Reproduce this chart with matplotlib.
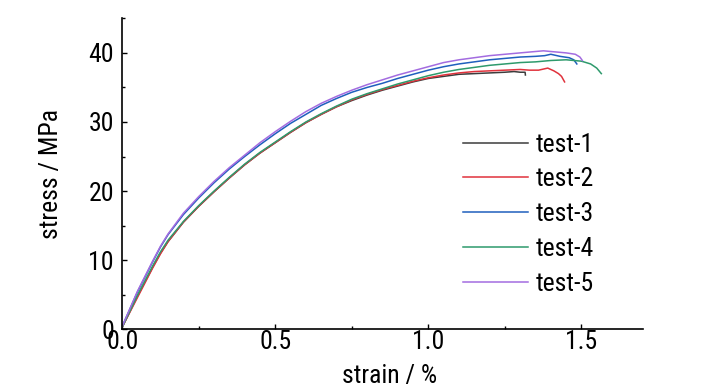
import matplotlib
matplotlib.use("Agg")
import matplotlib.pyplot as plt
from matplotlib.ticker import MultipleLocator, FormatStrFormatter
from matplotlib import font_manager

names = {f.name for f in font_manager.fontManager.ttflist}
fam = [n for n in ['Liberation Sans Narrow', 'Roboto Condensed', 'Open Sans Condensed'] if n in names]
plt.rcParams['font.family'] = fam + ['Liberation Sans', 'DejaVu Sans']
narrow = bool(fam)

labels = ["test-1", "test-2", "test-3", "test-4", "test-5"]
colors = ["#3c3c3c", "#e0323c", "#1f5fbd", "#2e9a6c", "#a36ce0"]

# strain (%) / stress (MPa)
strain_1 = [0, 0.05, 0.1, 0.125, 0.15, 0.2, 0.25, 0.3, 0.35, 0.4, 0.45, 0.5, 0.55, 0.6, 0.65, 0.7,
            0.75, 0.8, 0.85, 0.9, 0.95, 1.0, 1.05, 1.1, 1.15, 1.2, 1.25, 1.28, 1.3, 1.316, 1.317]
stress_1 = [0.3, 4.8, 9.0, 11.0, 12.7, 15.5, 17.8, 19.9, 21.9, 23.8, 25.5, 27.0, 28.5, 29.9, 31.1, 32.2,
            33.1, 33.9, 34.6, 35.2, 35.8, 36.3, 36.6, 36.9, 37.0, 37.1, 37.2, 37.3, 37.2, 37.2, 36.8]

strain_2 = [0, 0.05, 0.1, 0.125, 0.15, 0.2, 0.25, 0.3, 0.35, 0.4, 0.45, 0.5, 0.55, 0.6, 0.65, 0.7,
            0.75, 0.8, 0.85, 0.9, 0.95, 1.0, 1.05, 1.1, 1.15, 1.2, 1.25, 1.3, 1.33, 1.36, 1.39,
            1.41, 1.425, 1.435, 1.445]
stress_2 = [0.3, 4.6, 8.9, 10.9, 12.7, 15.5, 17.8, 19.9, 21.9, 23.8, 25.5, 27.0, 28.5, 29.9, 31.1, 32.2,
            33.2, 34.0, 34.7, 35.3, 35.9, 36.4, 36.8, 37.1, 37.3, 37.4, 37.5, 37.6, 37.5, 37.5, 37.8,
            37.4, 37.0, 36.6, 35.8]

strain_3 = [0, 0.05, 0.1, 0.125, 0.15, 0.2, 0.25, 0.3, 0.35, 0.4, 0.45, 0.5, 0.55, 0.6, 0.65, 0.7,
            0.75, 0.8, 0.85, 0.9, 0.95, 1.0, 1.05, 1.1, 1.15, 1.2, 1.25, 1.3, 1.35, 1.38, 1.40,
            1.43, 1.46, 1.475, 1.485]
stress_3 = [0.4, 5.4, 9.8, 11.9, 13.7, 16.6, 19.0, 21.2, 23.2, 25.0, 26.7, 28.3, 29.8, 31.1, 32.4, 33.4,
            34.3, 35.0, 35.6, 36.3, 36.9, 37.5, 38.0, 38.4, 38.7, 39.0, 39.2, 39.4, 39.5, 39.6, 39.8,
            39.5, 39.3, 39.0, 38.4]

strain_4 = [0, 0.05, 0.1, 0.125, 0.15, 0.2, 0.25, 0.3, 0.35, 0.4, 0.45, 0.5, 0.55, 0.6, 0.65, 0.7,
            0.75, 0.8, 0.85, 0.9, 0.95, 1.0, 1.05, 1.1, 1.15, 1.2, 1.25, 1.3, 1.35, 1.4, 1.45,
            1.5, 1.53, 1.55, 1.565]
stress_4 = [0.3, 4.9, 9.2, 11.2, 12.9, 15.6, 17.9, 20.0, 22.0, 23.9, 25.6, 27.1, 28.6, 30.0, 31.2, 32.3,
            33.3, 34.1, 34.8, 35.5, 36.1, 36.7, 37.2, 37.6, 37.9, 38.2, 38.4, 38.6, 38.7, 38.9, 39.0,
            38.8, 38.4, 37.8, 37.0]

strain_5 = [0, 0.05, 0.1, 0.125, 0.15, 0.2, 0.25, 0.3, 0.35, 0.4, 0.45, 0.5, 0.55, 0.6, 0.65, 0.7,
            0.75, 0.8, 0.85, 0.9, 0.95, 1.0, 1.05, 1.1, 1.15, 1.2, 1.25, 1.3, 1.35, 1.376, 1.4,
            1.45, 1.48, 1.495, 1.503]
stress_5 = [0.4, 5.5, 9.9, 12.0, 13.8, 16.8, 19.2, 21.4, 23.4, 25.2, 27.0, 28.6, 30.1, 31.5, 32.7, 33.7,
            34.6, 35.4, 36.1, 36.8, 37.4, 38.0, 38.6, 39.0, 39.3, 39.6, 39.8, 40.0, 40.2, 40.3, 40.2,
            40.0, 39.8, 39.4, 38.9]

strains = [strain_1, strain_2, strain_3, strain_4, strain_5]
stresses = [stress_1, stress_2, stress_3, stress_4, stress_5]

fs = 18.5 if narrow else 17

fig = plt.figure(figsize=(7.27, 3.90), dpi=100)
ax = fig.add_axes([0.168, 0.1556, 0.716, 0.7974])

for x, y, c, lab in zip(strains, stresses, colors, labels):
    ax.plot(x, y, color=c, lw=1.1, label=lab)

ax.set_xlim(0, 1.7)
ax.set_ylim(0, 45)
ax.xaxis.set_major_locator(MultipleLocator(0.5))
ax.xaxis.set_minor_locator(MultipleLocator(0.25))
ax.yaxis.set_major_locator(MultipleLocator(10))
ax.yaxis.set_minor_locator(MultipleLocator(5))
ax.xaxis.set_major_formatter(FormatStrFormatter('%.1f'))

for s in ['top', 'right']:
    ax.spines[s].set_visible(False)
for s in ['left', 'bottom']:
    ax.spines[s].set_linewidth(1.2)

ax.tick_params(which='major', direction='in', length=3.5, width=1.0, labelsize=fs)
ax.tick_params(which='minor', direction='in', length=2.5, width=1.0)
ax.tick_params(axis='x', which='major', pad=0.5)
ax.tick_params(axis='y', which='major', pad=6)

ax.set_xlabel('strain / %', fontsize=fs)
ax.set_ylabel('stress / MPa', fontsize=fs)
ax.xaxis.set_label_coords(0.514, -0.11)
ax.yaxis.set_label_coords(-0.113, 0.5)

ax.legend(loc='center left', bbox_to_anchor=(0.654, 0.37), frameon=False, fontsize=fs,
          handlelength=2.6 * 18 / fs, handletextpad=0.3, labelspacing=0.42, borderpad=0, borderaxespad=0)

fig.savefig('out.png', dpi=100)
